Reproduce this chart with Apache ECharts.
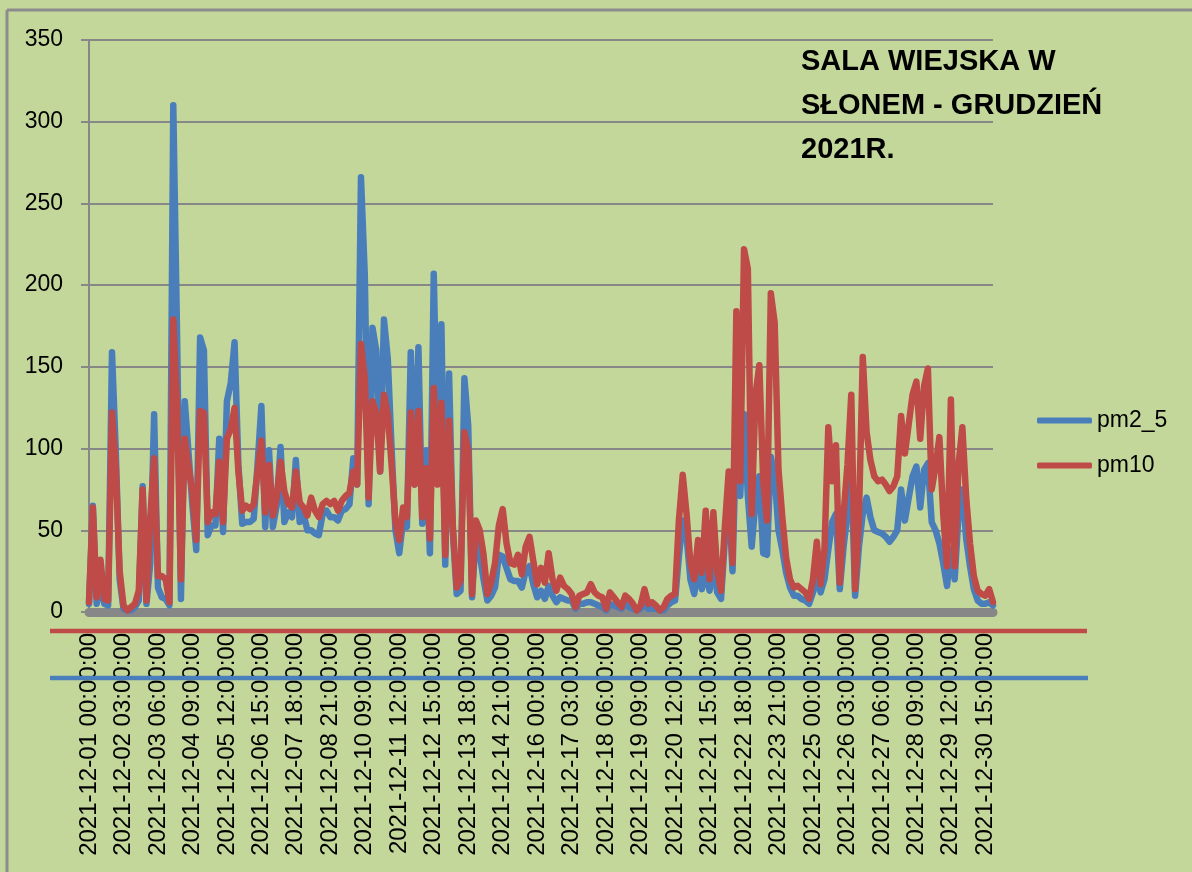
<!DOCTYPE html>
<html>
<head>
<meta charset="utf-8">
<title>SALA WIEJSKA W SŁONEM - GRUDZIEŃ 2021R.</title>
<script src="https://cdn.jsdelivr.net/npm/echarts@6/dist/echarts.min.js"></script>
<style>
  html, body { margin: 0; padding: 0; background: #c4d79b; }
  #chart { width: 1192px; height: 872px; }
</style>
</head>
<body>
<div id="chart"></div>
<script>
// one point every 3 rows (rows are hourly readings), a tick label every 27 rows
const tickLabels = [
  '2021-12-01 00:00:00', '2021-12-02 03:00:00', '2021-12-03 06:00:00', '2021-12-04 09:00:00',
  '2021-12-05 12:00:00', '2021-12-06 15:00:00', '2021-12-07 18:00:00', '2021-12-08 21:00:00',
  '2021-12-10 09:00:00', '2021-12-11 12:00:00', '2021-12-12 15:00:00', '2021-12-13 18:00:00',
  '2021-12-14 21:00:00', '2021-12-16 00:00:00', '2021-12-17 03:00:00', '2021-12-18 06:00:00',
  '2021-12-19 09:00:00', '2021-12-20 12:00:00', '2021-12-21 15:00:00', '2021-12-22 18:00:00',
  '2021-12-23 21:00:00', '2021-12-25 00:00:00', '2021-12-26 03:00:00', '2021-12-27 06:00:00',
  '2021-12-28 09:00:00', '2021-12-29 12:00:00', '2021-12-30 15:00:00'
]
const pointsPerLabel = 9

const pm25 = [
  5, 65, 5, 18, 5, 4, 159, 98, 20, 2,
  1, 1, 3, 7, 77, 5, 30, 121, 15, 9,
  8, 4, 310, 168, 8, 129, 97, 65, 38, 168,
  160, 47, 53, 53, 106, 49, 129, 140, 165, 90,
  54, 55, 55, 57, 90, 126, 52, 99, 52, 65,
  101, 55, 61, 58, 93, 55, 60, 50, 50, 48,
  47, 60, 62, 58, 58, 56, 62, 63, 66, 94,
  78, 266, 206, 66, 174, 160, 86, 179, 155, 100,
  50, 36, 56, 52, 159, 78, 162, 54, 99, 36,
  207, 99, 176, 29, 146, 48, 11, 13, 143, 114,
  9, 48, 35, 20, 7, 10, 15, 35, 34, 27,
  20, 19, 19, 15, 25, 28, 17, 9, 13, 8,
  16, 10, 6, 9, 8, 7, 7, 2, 5, 5,
  6, 6, 5, 4, 3, 1, 5, 4, 3, 2,
  5, 3, 2, 1, 2, 5, 2, 2, 2, 1,
  1, 4, 6, 7, 34, 56, 46, 20, 11, 26,
  14, 27, 13, 30, 12, 8, 44, 71, 25, 111,
  71, 121, 71, 40, 67, 83, 36, 35, 95, 83,
  50, 38, 24, 15, 10, 10, 8, 7, 5, 12,
  20, 12, 20, 38, 55, 60, 14, 40, 60, 89,
  10, 40, 60, 70, 58, 50, 49, 48, 46, 43,
  46, 50, 75, 56, 70, 83, 89, 64, 87, 91,
  55, 50, 42, 30, 16, 38, 20, 60, 75, 45,
  28, 14, 7, 5, 5, 6, 4
]

const pm10 = [
  6, 64, 9, 32, 8, 7, 122, 88, 25, 4,
  1, 3, 5, 13, 75, 7, 58, 94, 22, 22,
  20, 6, 179, 125, 20, 106, 89, 73, 44, 123,
  122, 55, 61, 60, 92, 55, 106, 112, 125, 86,
  62, 65, 63, 66, 86, 105, 61, 90, 59, 70,
  92, 74, 66, 64, 86, 67, 64, 59, 70, 62,
  58, 66, 68, 66, 68, 62, 68, 71, 73, 86,
  78, 164, 143, 70, 129, 122, 86, 133, 121, 90,
  55, 44, 64, 58, 122, 78, 123, 58, 88, 45,
  137, 78, 128, 35, 117, 52, 15, 19, 110, 99,
  11, 56, 50, 35, 11, 18, 30, 53, 63, 42,
  30, 29, 35, 23, 40, 46, 31, 17, 27, 18,
  36, 20, 13, 21, 16, 14, 11, 3, 10, 11,
  12, 17, 12, 10, 9, 2, 12, 9, 6, 3,
  10, 8, 5, 1, 4, 14, 5, 6, 4, 1,
  3, 8, 10, 11, 56, 84, 60, 30, 20, 44,
  24, 62, 20, 61, 25, 13, 52, 86, 30, 184,
  80, 222, 210, 60, 133, 151, 80, 56, 195, 177,
  87, 58, 33, 20, 15, 16, 14, 12, 8, 20,
  43, 17, 38, 113, 80, 102, 18, 60, 90, 133,
  14, 58, 156, 110, 93, 83, 80, 81, 78, 74,
  77, 83, 120, 97, 115, 133, 141, 106, 138, 149,
  75, 89, 107, 60, 28, 130, 28, 90, 113, 70,
  42, 22, 13, 11, 10, 14, 6
]

const font = 'Liberation Sans'
const chart = echarts.init(document.getElementById('chart'))

const categories = pm25.map((v, i) => i)

const option = {
  backgroundColor: '#c4d79b',
  animation: false,
  color: ['#4a7ebb', '#be4b48'],
  title: {
    text: 'SALA WIEJSKA W\nSŁONEM - GRUDZIEŃ\n2021R.',
    left: 801,
    top: 40,
    padding: 0,
    textStyle: {
      fontFamily: font,
      fontWeight: 'bold',
      fontSize: 29,
      lineHeight: 44,
      color: '#000'
    }
  },
  legend: {
    orient: 'vertical',
    left: 1032,
    top: 404,
    icon: 'roundRect',
    itemWidth: 55,
    itemHeight: 6,
    itemGap: 22,
    data: ['pm2_5', 'pm10'],
    textStyle: {
      fontFamily: font,
      fontSize: 23,
      color: '#000'
    }
  },
  grid: {
    left: 89,
    right: 199,
    top: 40,
    bottom: 260
  },
  xAxis: {
    type: 'category',
    data: categories,
    boundaryGap: false,
    offset: 5,
    axisLine: {
      lineStyle: { color: '#878787', width: 9 }
    },
    axisTick: { show: false },
    axisLabel: {
      interval: pointsPerLabel - 1,
      rotate: 90,
      margin: 16,
      fontFamily: font,
      fontSize: 24,
      color: '#000',
      formatter: (value, index) => tickLabels[index / pointsPerLabel] || ''
    },
    splitLine: { show: false }
  },
  yAxis: {
    type: 'value',
    min: 0,
    max: 350,
    interval: 50,
    axisLine: {
      show: true,
      lineStyle: { color: '#878787', width: 2 }
    },
    axisTick: {
      show: true,
      length: 8,
      lineStyle: { color: '#878787', width: 2 }
    },
    axisLabel: {
      margin: 26,
      fontFamily: font,
      fontSize: 23,
      color: '#000'
    },
    splitLine: {
      lineStyle: { color: '#878787', width: 2 }
    }
  },
  series: [
    {
      name: 'pm2_5',
      type: 'line',
      data: pm25,
      symbol: 'none',
      lineStyle: { width: 6.5, cap: 'round', join: 'round' }
    },
    {
      name: 'pm10',
      type: 'line',
      data: pm10,
      symbol: 'none',
      lineStyle: { width: 6.5, cap: 'round', join: 'round' }
    }
  ],
  // stray lines and frame that sit on the original sheet
  graphic: [
    { type: 'line', z: 100, shape: { x1: 7, y1: 10, x2: 7, y2: 872 }, style: { stroke: '#8c8c8c', lineWidth: 3 } },
    { type: 'line', z: 100, shape: { x1: 7, y1: 10, x2: 1192, y2: 10 }, style: { stroke: '#8c8c8c', lineWidth: 3 } },
    { type: 'line', z: 100, shape: { x1: 50, y1: 631, x2: 1087, y2: 631 }, style: { stroke: '#be4b48', lineWidth: 4.5 } },
    { type: 'line', z: 100, shape: { x1: 50, y1: 678, x2: 1088, y2: 678 }, style: { stroke: '#4a7ebb', lineWidth: 4.5 } }
  ]
}

chart.setOption(option)
</script>
</body>
</html>
